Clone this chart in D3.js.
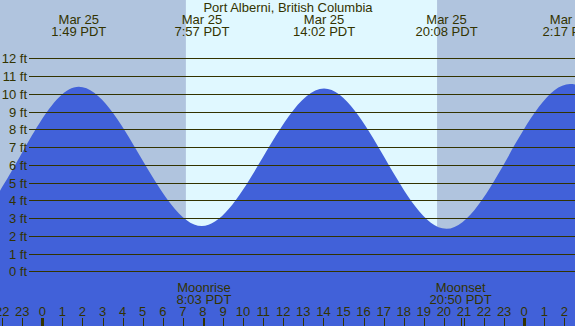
<!DOCTYPE html>
<html>
<head>
<meta charset="utf-8">
<script src="https://cdn.jsdelivr.net/npm/d3@7"></script>
<style>
    body { margin: 0; background: white; }
    svg { display: block; }
    text { font-family: "Liberation Sans", Arial, sans-serif; font-size: 13px; fill: #333300; }
</style>
</head>
<body>
<div id="chart"></div>
<script>
// tide extremes (hours from midnight Mar 25, PDT) - first two and last are off screen
const tideHours = [-10.2, -4.0, 1.817, 7.95, 14.033, 20.133, 26.283, 32.4]
const tideFeet = [10.3, 2.6, 10.4, 2.55, 10.3, 2.4, 10.55, 2.4]
const tideLabels = [null, null, "1:49 PDT", "7:57 PDT", "14:02 PDT", "20:08 PDT", "2:17 PDT", null]
const tideDates = [null, null, "Mar 25", "Mar 25", "Mar 25", "Mar 25", "Mar 25", null]

// daylight
const sunUp = 7.15
const sunDown = 19.66

// moon
const moonHours = [8.05, 20.833]
const moonNames = ["Moonrise", "Moonset"]
const moonTimes = ["8:03 PDT", "20:50 PDT"]

const feetTicks = [0, 1, 2, 3, 4, 5, 6, 7, 8, 9, 10, 11, 12]
const hourTicks = d3.range(-2, 27)

const title = "Port Alberni, British Columbia"

;(function () {
    const width = 575, height = 326

    const svg = d3.select("#chart")
        .append("svg")
        .attr("width", width)
        .attr("height", height)

    const x = d3.scaleLinear().domain([-2.107, 26.53]).range([0, width])
    const y = d3.scaleLinear().domain([0, 12]).range([271.3, 58.3])

    // night / day background
    svg.append("rect")
        .attr("width", width).attr("height", height)
        .attr("fill", "#b0c4de")
    svg.append("rect")
        .attr("x", x(sunUp)).attr("y", 0)
        .attr("width", x(sunDown) - x(sunUp)).attr("height", height)
        .attr("fill", "#e0f8ff")

    // water
    const tide = tideHours.map((h, i) => ({ hour: h, ft: tideFeet[i] }))
    const area = d3.area()
        .x(d => x(d.hour))
        .y0(height)
        .y1(d => y(d.ft))
        .curve(d3.curveMonotoneX)

    svg.append("path")
        .datum(tide)
        .attr("d", area)
        .attr("fill", "#4161d9")

    // grid lines + labels
    const grid = svg.append("g")
    feetTicks.forEach(f => {
        const yy = Math.round(y(f)) + 0.5
        grid.append("line")
            .attr("x1", 29).attr("x2", width)
            .attr("y1", yy).attr("y2", yy)
            .attr("stroke", "#333300")
            .attr("shape-rendering", "crispEdges")
        grid.append("text")
            .attr("x", 27).attr("y", yy + 4.5)
            .attr("text-anchor", "end")
            .text(f + " ft")
    })

    // title
    svg.append("text")
        .attr("x", 288).attr("y", 12)
        .attr("text-anchor", "middle")
        .text(title)

    // high / low labels
    tide.forEach((d, i) => {
        if (!tideLabels[i]) return
        svg.append("text")
            .attr("x", x(d.hour)).attr("y", 24)
            .attr("text-anchor", "middle")
            .text(tideDates[i])
        svg.append("text")
            .attr("x", x(d.hour)).attr("y", 36)
            .attr("text-anchor", "middle")
            .text(tideLabels[i])
    })

    // moon labels
    moonHours.forEach((h, i) => {
        svg.append("text")
            .attr("x", x(h)).attr("y", 292)
            .attr("text-anchor", "middle")
            .text(moonNames[i])
        svg.append("text")
            .attr("x", x(h)).attr("y", 304)
            .attr("text-anchor", "middle")
            .text(moonTimes[i])
        svg.append("line")
            .attr("x1", Math.round(x(h)) + 0.5).attr("x2", Math.round(x(h)) + 0.5)
            .attr("y1", 318).attr("y2", height)
            .attr("stroke", "#333300")
    })

    // hour axis
    hourTicks.forEach(h => {
        const hh = ((h % 24) + 24) % 24
        const xx = Math.round(x(h)) + 0.5
        svg.append("text")
            .attr("x", x(h)).attr("y", 316)
            .attr("text-anchor", "middle")
            .text(hh)
        svg.append("line")
            .attr("x1", xx).attr("x2", xx)
            .attr("y1", 318).attr("y2", height)
            .attr("stroke", "#333300")
            .attr("stroke-width", hh === 0 ? 3 : 1)
    })
})()
</script>
</body>
</html>
